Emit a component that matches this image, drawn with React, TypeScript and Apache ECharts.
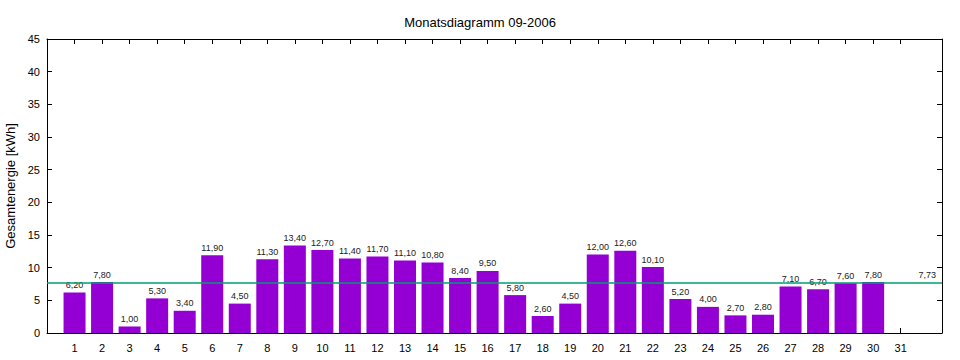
import React, { useEffect, useRef } from "react";
import * as echarts from "echarts";

const title = "Monatsdiagramm 09-2006";
const yAxisName = "Gesamtenergie [kWh]";
const days = Array.from({ length: 31 }, (_, i) => i + 1);
const dayValues = [
  6.2, 7.8, 1.0, 5.3, 3.4, 11.9, 4.5, 11.3, 13.4, 12.7, 11.4, 11.7, 11.1, 10.8, 8.4,
  9.5, 5.8, 2.6, 4.5, 12.0, 12.6, 10.1, 5.2, 4.0, 2.7, 2.8, 7.1, 6.7, 7.6, 7.8,
];
const average = 7.73;

const fmt = (v: number) => v.toFixed(2).replace(".", ",");
const FONT = "Liberation Sans, Arial, sans-serif";

export default function App() {
  const ref = useRef<HTMLDivElement>(null);
  useEffect(() => {
    if (!ref.current) return;
    const chart = echarts.init(ref.current, undefined, { renderer: "svg" });
    const xCommon = {
      type: "value" as const,
      min: 0,
      max: 32.5,
      interval: 1,
      splitLine: { show: false },
      axisLine: { show: true, onZero: false, lineStyle: { color: "#000", width: 1 } },
      axisTick: { show: true, inside: true, length: 5, customValues: days, lineStyle: { color: "#000" } },
    };
    const yCommon = {
      type: "value" as const,
      min: 0,
      max: 45,
      interval: 5,
      splitLine: { show: false },
      axisLine: { show: true, onZero: false, lineStyle: { color: "#000", width: 1 } },
      axisTick: { show: true, inside: true, length: 5, lineStyle: { color: "#000" } },
    };
    chart.setOption({
      animation: false,
      backgroundColor: "#fff",
      textStyle: { fontFamily: FONT },
      title: {
        text: title,
        left: "center",
        top: 11,
        textStyle: { fontFamily: FONT, fontSize: 13, fontWeight: "normal", color: "#000" },
      },
      grid: { left: 47, right: 18, top: 39, bottom: 27, containLabel: false, outerBoundsMode: "none" },
      xAxis: [
        {
          ...xCommon,
          position: "bottom",
          axisLabel: {
            customValues: days,
            color: "#000",
            fontSize: 11,
            fontFamily: FONT,
            margin: 9,
          },
        },
        {
          ...xCommon,
          position: "top",
          axisLabel: { show: false },
        },
      ],
      yAxis: [
        {
          ...yCommon,
          position: "left",
          name: yAxisName,
          nameLocation: "middle",
          nameGap: 29,
          nameTextStyle: { fontFamily: FONT, fontSize: 13, color: "#000" },
          axisLabel: { color: "#000", fontSize: 11, fontFamily: FONT, margin: 7 },
        },
        {
          ...yCommon,
          position: "right",
          axisLabel: { show: false },
        },
      ],
      series: [
        {
          type: "bar",
          xAxisIndex: 0,
          yAxisIndex: 0,
          barWidth: 22,
          data: dayValues.map((v, i) => [days[i], v]),
          itemStyle: { color: "#9400d3" },
          label: {
            show: true,
            position: "top",
            distance: 3,
            fontSize: 9,
            fontFamily: FONT,
            color: "#222",
            formatter: (p: any) => fmt(p.value[1]),
          },
          markLine: {
            silent: true,
            symbol: "none",
            lineStyle: { color: "#009e73", width: 1.5, type: "solid" },
            label: {
              show: true,
              position: "insideEndTop",
              distance: [6, 3],
              fontSize: 9,
              fontFamily: FONT,
              color: "#222",
              formatter: () => fmt(average),
            },
            data: [{ yAxis: average }],
          },
        },
      ],
    });
    return () => chart.dispose();
  }, []);
  return (
    <div
      ref={ref}
      style={{ position: "fixed", left: 0, top: 0, width: 960, height: 360 }}
    />
  );
}
